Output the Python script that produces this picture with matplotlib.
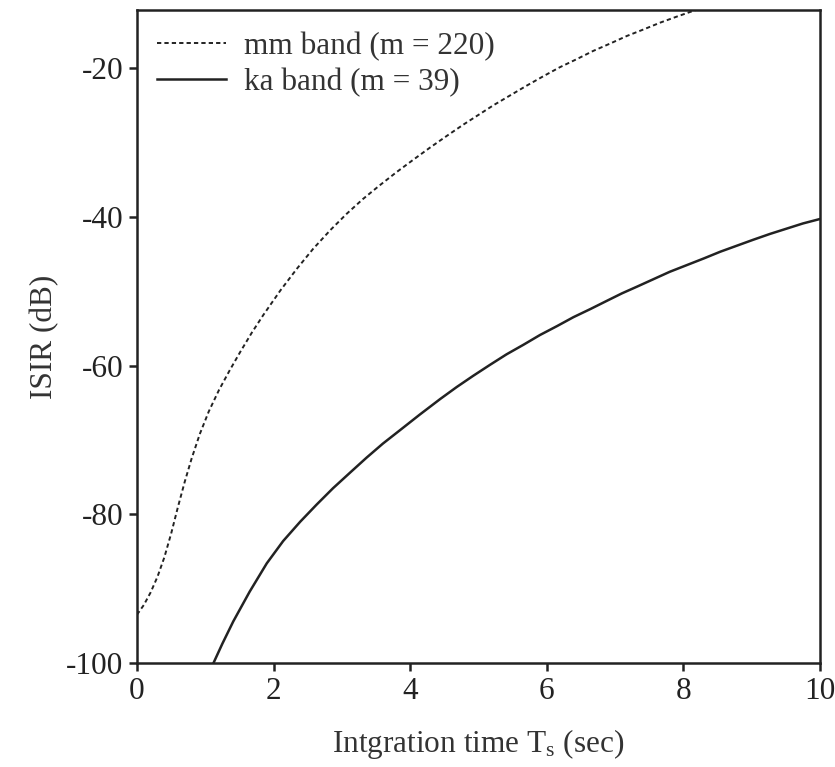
import matplotlib
matplotlib.use("Agg")
import matplotlib.pyplot as plt

# ---- data ----
mm_x = [0.0, 0.10, 0.20, 0.30, 0.40, 0.50, 0.60, 0.70, 0.80, 0.92, 1.05, 1.20,
        1.36, 1.51, 1.68, 1.85, 2.10, 2.34, 2.58, 2.83, 3.07, 3.31, 3.55, 3.80,
        4.05, 4.29, 4.54, 4.78, 5.00, 5.22, 5.46, 5.70, 5.95, 6.19, 6.44, 6.68,
        6.93, 7.17, 7.42, 7.66, 7.90, 8.15, 8.30]
mm_y = [-93.5, -92.2, -90.5, -88.4, -85.8, -82.6, -79.0, -75.6, -72.5, -69.2,
        -66.2, -63.3, -60.6, -58.2, -55.6, -53.2, -49.9, -47.0, -44.3, -41.8,
        -39.6, -37.6, -35.8, -34.0, -32.3, -30.7, -29.1, -27.6, -26.3, -25.0,
        -23.7, -22.4, -21.1, -19.9, -18.8, -17.7, -16.7, -15.7, -14.8, -13.9,
        -13.1, -12.3, -11.8]

ka_x = [1.12, 1.25, 1.41, 1.65, 1.90, 2.14, 2.39, 2.63, 2.87, 3.12, 3.36, 3.60,
        3.85, 4.14, 4.44, 4.68, 4.92, 5.17, 5.41, 5.66, 5.90, 6.15, 6.39, 6.64,
        6.88, 7.10, 7.32, 7.56, 7.80, 8.05, 8.30, 8.54, 8.78, 9.02, 9.27, 9.51,
        9.75, 10.0]
ka_y = [-100.0, -97.4, -94.4, -90.4, -86.6, -83.6, -81.0, -78.7, -76.5, -74.4,
        -72.4, -70.5, -68.7, -66.6, -64.5, -62.9, -61.4, -59.9, -58.5, -57.2,
        -55.9, -54.7, -53.5, -52.4, -51.3, -50.3, -49.4, -48.4, -47.4, -46.5,
        -45.6, -44.7, -43.9, -43.1, -42.3, -41.6, -40.9, -40.3]

labels = ["mm band (m = 220)", "ka band (m = 39)"]
x_ticks = [0, 2, 4, 6, 8, 10]
y_ticks = [-100, -80, -60, -40, -20]
xlabel = r"Intgration time T$_{\mathrm{s}}$ (sec)"
ylabel = "ISIR (dB)"

# ---- style ----
plt.rcParams["font.family"] = ["Liberation Serif", "DejaVu Serif"]
plt.rcParams["mathtext.fontset"] = "custom"
plt.rcParams["mathtext.rm"] = "Liberation Serif"
plt.rcParams["mathtext.it"] = "Liberation Serif:italic"
plt.rcParams["axes.unicode_minus"] = False

FS = 22.5
fig = plt.figure(figsize=(8.35, 7.67), dpi=100)
ax = fig.add_axes([137 / 835, 1 - 663 / 767, 683 / 835, 653 / 767])

ax.plot(mm_x, mm_y, color="#222222", lw=1.4, dashes=(2.2, 1.6), label=labels[0])
ax.plot(ka_x, ka_y, color="#222222", lw=1.8, label=labels[1])

ax.set_xlim(0, 10)
ax.set_ylim(-100, -12.2)
ax.set_xticks(x_ticks)
ax.set_yticks(y_ticks)
ax.tick_params(direction="out", length=6, width=1.8, labelsize=FS,
               colors="#222222", top=False, right=False, pad=4)
for s in ax.spines.values():
    s.set_linewidth(1.8)
    s.set_color("#222222")

ax.set_xlabel(xlabel, fontsize=FS, color="#333333", labelpad=15)
ax.set_ylabel(ylabel, fontsize=FS, color="#333333", labelpad=5)

leg = ax.legend(loc="upper left", bbox_to_anchor=(20 / 683, 1 - 22 / 653),
                frameon=False, fontsize=FS, handlelength=2.2,
                handletextpad=0.6, labelspacing=0.2, borderpad=0,
                borderaxespad=0)
for t in leg.get_texts():
    t.set_color("#333333")

fig.savefig("out.png", dpi=100)
